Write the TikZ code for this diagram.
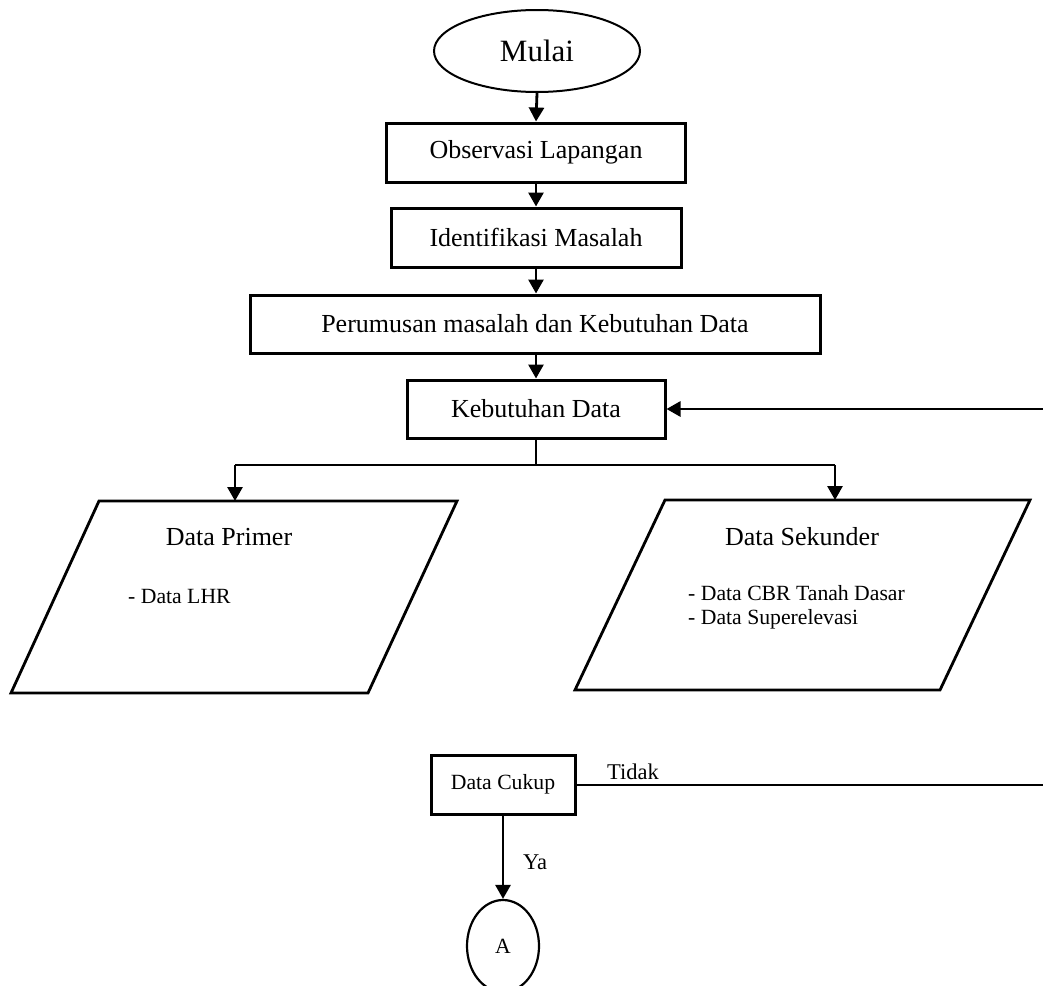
\documentclass[tikz,border=0pt]{standalone}
\usepackage{fontspec}
\setmainfont{Liberation Serif}
\usetikzlibrary{shapes.geometric,arrows.meta}
\tikzset{
  boxnode/.style={draw, line width=3pt, rectangle, inner sep=0pt, font=\fontsize{26}{30}\selectfont},
  smallbox/.style={draw, line width=3pt, rectangle, inner sep=0pt, font=\fontsize{21.7}{26}\selectfont},
  termnode/.style={draw, line width=2pt, ellipse, inner sep=0pt, font=\fontsize{31}{36}\selectfont},
  connode/.style={draw, line width=2.2pt, ellipse, inner sep=0pt, font=\fontsize{21.7}{26}\selectfont},
  para/.style={draw, line width=2.8pt, line join=miter},
  arrowline/.style={line width=2.8pt, -{Triangle[width=15pt,length=14pt]}},
  thinline/.style={line width=1.3pt},
  bigtxt/.style={font=\fontsize{26}{30}\selectfont, inner sep=0pt},
  smalltxt/.style={font=\fontsize{21.7}{26}\selectfont, inner sep=0pt},
  lbltxt/.style={font=\fontsize{22.5}{27}\selectfont, inner sep=0pt}
}
\begin{document}
\begin{tikzpicture}[x=1pt,y=-1pt]
\useasboundingbox (0,0) rectangle (1043,985);
\clip (0,0) rectangle (1043,985);

\node[termnode, minimum width=206pt, minimum height=82pt] (mulai) at (537,51) {Mulai};
\node[boxnode, minimum width=299pt, minimum height=59pt] (obs) at (536,152.5) {Observasi Lapangan};
\node[boxnode, minimum width=290pt, minimum height=59pt] (idn) at (536,237.5) {Identifikasi Masalah};
\node[boxnode, minimum width=570pt, minimum height=58pt] (per) at (535,324) {Perumusan masalah dan Kebutuhan Data};
\node[boxnode, minimum width=258pt, minimum height=58pt] (keb) at (536,409) {Kebutuhan Data};

\draw[arrowline] (mulai.south) -- (obs.north);
\draw[arrowline] (obs.south) -- (idn.north);
\draw[arrowline] (idn.south) -- (per.north -| idn.south);
\draw[arrowline] (per.south -| keb.north) -- (keb.north);

% parallelograms
\draw[para] (99,501) -- (457,501) -- (368,693) -- (11,693) -- cycle;
\draw[para] (665,500) -- (1030,500) -- (940,690) -- (575,690) -- cycle;
\coordinate (primTop) at (235,501);
\coordinate (sekTop) at (835,500);
\node[bigtxt] (primT) at (229,537) {Data Primer};
\node[smalltxt, anchor=base west] (lhr) at (128,603) {- Data LHR};
\node[bigtxt] (sekT) at (802,537) {Data Sekunder};
\node[smalltxt, anchor=base west] (cbr) at (688,600) {- Data CBR Tanah Dasar};
\node[smalltxt, anchor=base west] (sup) at (688,624) {- Data Superelevasi};

% split
\coordinate (split) at (keb.south |- 0,465);
\coordinate (splitL) at (235,465);
\coordinate (splitR) at (835,465);
\draw[thinline] (keb.south) -- (split);
\draw[thinline] (splitL) -- (splitR);
\draw[arrowline] (splitL) -- (primTop);
\draw[arrowline] (splitR) -- (sekTop);

% feedback
\coordinate (fbR) at (1045,409);
\draw[arrowline] (fbR) -- (keb.east);

% decision
\node[smallbox, minimum width=144pt, minimum height=59pt] (cukup) at (503,784.5) {Data Cukup};
\coordinate (tidR) at (1045,785);
\draw[thinline] (cukup.east |- 0,785) -- (tidR);
\node[lbltxt, anchor=base west] (tidak) at (607,779) {Tidak};

\node[connode, minimum width=72pt, minimum height=92pt] (A) at (503,946) {A};
\draw[arrowline] (cukup.south) -- (A.north);
\node[lbltxt, anchor=base west] (ya) at (523,869) {Ya};
\end{tikzpicture}
\end{document}
